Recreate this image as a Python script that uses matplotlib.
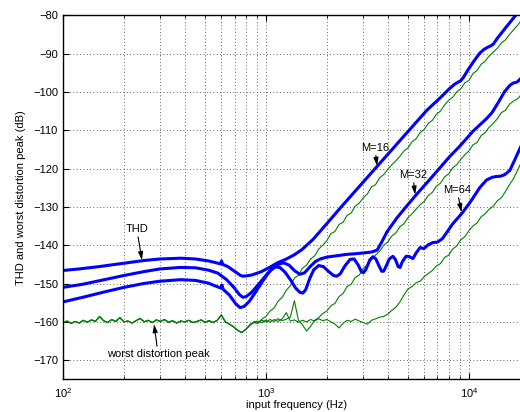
import matplotlib
matplotlib.use('Agg')
import matplotlib.pyplot as plt
import numpy as np

plt.rcParams['font.family'] = ['Liberation Sans', 'DejaVu Sans']
plt.rcParams['font.size'] = 8

# THD curves (blue): frequency (Hz) / dB
thd16_f = [100, 120, 150, 200, 250, 300, 380, 450, 520, 580, 598, 604, 612, 650, 700, 745,
           770, 800, 850, 950, 1050, 1140, 1250, 1370, 1500, 1705, 2000, 2395, 3520, 6200,
           7200, 8000, 8500, 8800, 9100, 9400, 9800, 10500, 11300, 11800, 12300, 12800,
           13200, 13800, 15300, 17000, 19000]
thd16_db = [-146.6, -146.2, -145.6, -144.7, -144.0, -143.6, -143.4, -143.6, -144.1, -144.7,
            -144.9, -144.1, -145.0, -145.6, -146.8, -147.8, -148.1, -148.0, -147.8, -146.9,
            -145.7, -144.6, -143.7, -142.6, -141.2, -138.5, -134.3, -129.5, -119.5, -104.8,
            -101.6, -99.2, -98.0, -97.5, -97.1, -96.2, -94.6, -92.2, -89.9, -89.0, -88.4,
            -88.0, -87.5, -86.0, -83.0, -80.0, -77.0]

thd32_f = [100, 125, 160, 200, 250, 300, 380, 450, 520, 580, 640, 700, 740, 770, 800, 850,
           920, 1000, 1080, 1150, 1220, 1300, 1380, 1470, 1550, 1650, 1750, 1850, 2000, 2200,
           2500, 2800, 3050, 3300, 3530, 3700, 3940, 4400, 4950, 5530, 6500, 8000, 9000,
           10500, 12200, 13000, 13900, 15000, 15900, 16500, 17300, 18000, 19000, 20000]
thd32_db = [-151.0, -150.2, -149.0, -147.9, -146.9, -146.2, -145.8, -145.9, -146.5, -147.3,
            -149.0, -151.2, -152.9, -153.6, -153.4, -152.3, -150.2, -147.9, -146.0, -145.0,
            -144.6, -145.2, -146.6, -147.6, -147.2, -145.6, -144.3, -143.6, -143.1, -142.8,
            -142.4, -142.2, -142.0, -141.8, -141.3, -139.4, -136.6, -133.0, -129.7, -126.7,
            -122.5, -117.0, -114.2, -110.2, -107.0, -105.4, -102.9, -99.9, -98.3, -97.7,
            -97.4, -96.5, -94.5, -92.5]

thd64_f = [100, 125, 160, 200, 250, 300, 380, 450, 520, 580, 600, 607, 615, 660, 710, 745,
           780, 830, 900, 980, 1050, 1110, 1170, 1240, 1320, 1400, 1470, 1520, 1570, 1640,
           1720, 1820, 1920, 2040, 2150, 2230, 2320, 2450, 2600, 2720, 2850, 2950, 3020, 3110,
           3250, 3370, 3480, 3620, 3720, 3800, 3900, 4050, 4220, 4350, 4480, 4580, 4700, 4900,
           5050, 5300, 5500, 5750, 6000, 6300, 6650, 7000, 7400, 7800, 8300, 9300, 10200,
           11300, 12200, 13000, 13500, 14300, 15000, 15900, 16800, 18000, 19500, 20000]
thd64_db = [-154.8, -153.6, -152.2, -151.0, -150.0, -149.4, -149.0, -149.2, -149.9, -150.9,
            -151.2, -150.4, -151.5, -153.0, -155.3, -156.3, -156.0, -154.6, -151.8, -148.8,
            -146.6, -145.7, -145.8, -147.0, -149.0, -151.2, -152.3, -152.5, -151.6, -148.8,
            -146.4, -145.3, -145.6, -146.9, -147.9, -148.1, -147.5, -145.4, -143.7, -143.6,
            -145.2, -146.9, -147.2, -146.3, -143.8, -143.0, -143.6, -145.6, -146.8, -146.8,
            -145.6, -143.6, -142.9, -143.8, -145.6, -145.8, -144.3, -142.9, -142.9, -143.5,
            -142.0, -140.6, -140.9, -139.9, -139.3, -139.2, -138.3, -136.6, -134.5, -131.5,
            -128.6, -125.0, -123.0, -122.3, -122.1, -122.0, -121.6, -120.5, -117.8, -114.3,
            -111.5, -110.8]

# worst distortion peak (green), sampled every 0.02 decade from 100 Hz
peak_f = 10 ** (2 + 0.02 * np.arange(116))
floor_db = [-160.2, -159.8, -160.4, -159.9, -160.3, -159.6, -160.1, -159.5, -159.9, -158.6,
            -159.7, -160.2, -159.4, -159.9, -158.9, -160.0, -159.8, -160.3, -159.7, -159.1,
            -160.0, -159.6, -160.2, -159.5, -159.9, -159.4, -160.1, -159.7, -160.3, -159.8,
            -160.0, -159.6, -160.2, -159.9, -159.5, -160.1, -159.7, -160.2, -159.6, -158.2,
            -160.0, -160.6, -161.3, -162.2, -162.8, -162.0]
peak16_db = floor_db + [
    -161.0, -160.2, -160.4, -159.3, -158.6, -157.2, -156.4, -154.6, -153.6, -151.8,
    -150.6, -148.6, -147.8, -146.0, -145.2, -143.6, -142.8, -141.0, -140.0, -138.8,
    -137.0, -136.4, -134.6, -134.0, -132.2, -131.6, -129.8, -129.0, -127.6, -126.6,
    -124.8, -124.2, -122.4, -121.6, -120.2, -119.0, -118.0, -116.8, -115.4, -114.6,
    -113.0, -112.2, -110.6, -109.8, -108.2, -107.4, -105.8, -105.0, -103.4, -102.2,
    -101.4, -100.0, -99.2, -97.6, -97.0, -95.2, -94.4, -92.8, -92.0, -90.6,
    -89.6, -88.6, -87.2, -86.4, -85.0, -83.8, -82.6, -81.2, -80.0, -78.8]
peak32_db = floor_db + [
    -160.8, -160.1, -160.3, -159.6, -160.0, -159.4, -159.9, -159.2, -159.7, -159.3,
    -158.8, -154.5, -159.6, -160.8, -162.4, -161.2, -159.6, -158.9, -157.8, -157.2,
    -155.8, -155.2, -153.4, -152.6, -150.8, -150.2, -148.4, -147.8, -146.0, -145.2,
    -143.8, -142.6, -141.6, -140.0, -139.2, -137.6, -136.8, -135.2, -134.4, -132.8,
    -131.8, -130.6, -129.4, -128.6, -127.0, -126.2, -124.6, -123.8, -122.2, -121.4,
    -119.8, -119.0, -117.6, -116.4, -115.4, -113.8, -113.2, -111.4, -110.6, -109.2,
    -108.2, -107.0, -105.4, -104.8, -103.2, -102.4, -101.8, -100.6, -100.2, -99.4]
peak64_db = floor_db + [
    -160.9, -160.0, -159.8, -160.2, -159.5, -160.1, -159.4, -159.9, -159.2, -157.6,
    -159.8, -159.5, -160.1, -159.6, -160.0, -159.4, -159.8, -159.2, -159.7, -159.4,
    -160.0, -160.6, -161.6, -160.4, -159.6, -159.9, -159.3, -159.8, -160.2, -160.6,
    -159.6, -159.2, -158.8, -158.6, -158.0, -157.0, -156.2, -154.8, -153.0, -151.4,
    -150.8, -149.8, -149.4, -148.2, -147.4, -146.6, -145.4, -144.8, -143.2, -142.6,
    -141.0, -140.2, -138.6, -137.8, -136.2, -135.0, -134.2, -132.6, -131.8, -130.6,
    -129.8, -128.4, -127.6, -126.0, -124.2, -122.6, -120.4, -118.2, -116.6, -115.0]

fig = plt.figure(figsize=(5.2, 4.12), dpi=100)
ax = fig.add_axes([63 / 520, 32.7 / 412, 467 / 520, 364 / 412])

green = '#008000'
for db in (peak64_db, peak32_db, peak16_db):
    ax.plot(peak_f, db, color=green, lw=0.8)
for f, db in ((thd64_f, thd64_db), (thd32_f, thd32_db), (thd16_f, thd16_db)):
    ax.plot(f, db, color='#0000ff', lw=2.2, solid_joinstyle='round')

ax.set_xscale('log')
ax.set_xlim(100, 2e4)
ax.set_ylim(-175, -80)
ax.set_yticks(np.arange(-170, -79, 10))
ax.grid(True, which='major', color='0.2', linestyle=(0, (1, 3)), lw=0.6)
ax.grid(True, which='minor', axis='x', color='0.2', linestyle=(0, (1, 3)), lw=0.6)
ax.tick_params(which='both', direction='in', top=True, right=True, labelsize=8)
ax.tick_params(which='major', length=4)
ax.tick_params(axis='x', which='major', pad=5)
ax.tick_params(which='minor', length=2)
for s in ax.spines.values():
    s.set_linewidth(1.0)

ax.set_xlabel('input frequency (Hz)', fontsize=8, labelpad=0)
ax.set_ylabel('THD and worst distortion peak (dB)', fontsize=8, labelpad=5)

arrow = dict(arrowstyle='-|>,head_length=0.6,head_width=0.18', color='k', lw=0.8,
             shrinkA=0, shrinkB=0)
ax.annotate('THD', xy=(245, -143.9), xytext=(231, -135.8), ha='center', va='center',
            arrowprops=arrow)
ax.annotate('worst distortion peak', xy=(281, -160.6), xytext=(294, -168.4),
            ha='center', va='center', arrowprops=arrow)
ax.annotate('M=16', xy=(3525, -119.3), xytext=(3444, -114.6), ha='center', va='center',
            arrowprops=arrow)
ax.annotate('M=32', xy=(5430, -126.8), xytext=(5300, -121.7), ha='center', va='center',
            arrowprops=arrow)
ax.annotate('M=64', xy=(9200, -131.4), xytext=(8730, -125.6), ha='center', va='center',
            arrowprops=arrow)

fig.savefig('out.png', dpi=100)
